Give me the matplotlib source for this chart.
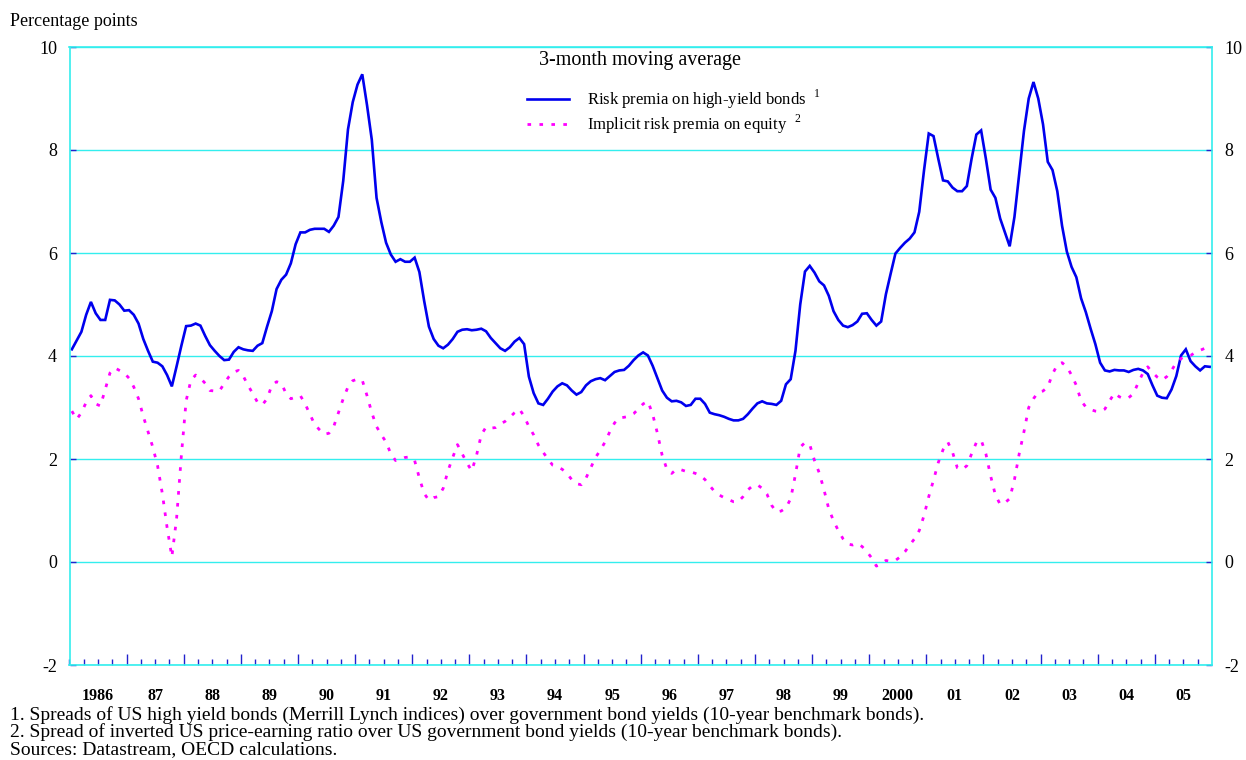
import numpy as np
import matplotlib
matplotlib.use('Agg')
import matplotlib.pyplot as plt
import matplotlib.transforms as mtransforms

plt.rcParams['font.family'] = ['Liberation Serif', 'DejaVu Serif']
plt.rcParams['mathtext.fontset'] = 'custom'
plt.rcParams['mathtext.rm'] = 'Liberation Serif'
plt.rcParams['axes.unicode_minus'] = False

# monthly data, Jan 1986 - Dec 2005 (3-month moving average)
high_yield = [
    4.13, 4.30, 4.47, 4.80, 5.05, 4.83, 4.70, 4.70, 5.09, 5.08, 5.00, 4.88,  # 1986
    4.89, 4.80, 4.63, 4.33, 4.10, 3.89, 3.87, 3.80, 3.63, 3.41, 3.80, 4.20,  # 1987
    4.58, 4.59, 4.63, 4.59, 4.39, 4.21, 4.10, 4.00, 3.92, 3.93, 4.08, 4.17,  # 1988
    4.13, 4.11, 4.10, 4.20, 4.25, 4.57, 4.87, 5.30, 5.48, 5.58, 5.80, 6.17,  # 1989
    6.40, 6.40, 6.45, 6.47, 6.47, 6.47, 6.41, 6.53, 6.70, 7.40, 8.40, 8.93,  # 1990
    9.27, 9.47, 8.87, 8.20, 7.07, 6.60, 6.20, 5.97, 5.83, 5.88, 5.83, 5.83,  # 1991
    5.91, 5.63, 5.07, 4.57, 4.33, 4.20, 4.15, 4.22, 4.33, 4.47, 4.51, 4.52,  # 1992
    4.50, 4.51, 4.53, 4.48, 4.35, 4.25, 4.15, 4.10, 4.17, 4.28, 4.35, 4.23,  # 1993
    3.60, 3.28, 3.08, 3.05, 3.17, 3.31, 3.41, 3.47, 3.43, 3.33, 3.25, 3.30,  # 1994
    3.43, 3.51, 3.55, 3.57, 3.53, 3.61, 3.69, 3.72, 3.73, 3.81, 3.92, 4.01,  # 1995
    4.07, 4.01, 3.81, 3.57, 3.33, 3.19, 3.12, 3.13, 3.10, 3.03, 3.05, 3.17,  # 1996
    3.17, 3.07, 2.90, 2.87, 2.85, 2.82, 2.78, 2.75, 2.75, 2.78, 2.87, 2.98,  # 1997
    3.08, 3.12, 3.08, 3.07, 3.05, 3.13, 3.45, 3.55, 4.10, 5.00, 5.64, 5.75,  # 1998
    5.62, 5.45, 5.37, 5.17, 4.87, 4.70, 4.59, 4.56, 4.60, 4.67, 4.82, 4.83,  # 1999
    4.70, 4.59, 4.67, 5.20, 5.60, 5.99, 6.10, 6.20, 6.28, 6.40, 6.80, 7.60,  # 2000
    8.32, 8.27, 7.83, 7.41, 7.39, 7.27, 7.20, 7.20, 7.30, 7.83, 8.30, 8.38,  # 2001
    7.83, 7.23, 7.07, 6.67, 6.40, 6.13, 6.70, 7.53, 8.37, 9.00, 9.32, 9.00,  # 2002
    8.50, 7.77, 7.61, 7.20, 6.53, 6.03, 5.73, 5.53, 5.12, 4.85, 4.53, 4.23,  # 2003
    3.87, 3.72, 3.70, 3.73, 3.72, 3.72, 3.69, 3.73, 3.75, 3.72, 3.65, 3.43,  # 2004
    3.23, 3.19, 3.18, 3.35, 3.61, 4.01, 4.13, 3.90, 3.80, 3.72, 3.80, 3.79,  # 2005
]

equity = [
    2.93, 2.77, 2.90, 3.10, 3.23, 3.07, 3.03, 3.35, 3.67, 3.77, 3.72, 3.67,  # 1986
    3.57, 3.40, 3.17, 2.83, 2.53, 2.23, 1.87, 1.33, 0.67, 0.10, 0.85, 2.07,  # 1987
    3.13, 3.53, 3.63, 3.57, 3.47, 3.33, 3.32, 3.32, 3.47, 3.60, 3.69, 3.72,  # 1988
    3.61, 3.43, 3.27, 3.10, 3.05, 3.17, 3.43, 3.50, 3.47, 3.27, 3.17, 3.20,  # 1989
    3.23, 3.07, 2.87, 2.67, 2.57, 2.48, 2.50, 2.63, 2.90, 3.17, 3.40, 3.52,  # 1990
    3.55, 3.53, 3.23, 2.90, 2.63, 2.47, 2.33, 2.10, 1.97, 1.99, 2.03, 2.04,  # 1991
    1.97, 1.63, 1.33, 1.20, 1.25, 1.27, 1.43, 1.77, 2.03, 2.28, 2.10, 1.92,  # 1992
    1.77, 2.07, 2.47, 2.62, 2.60, 2.61, 2.68, 2.73, 2.81, 2.90, 2.97, 2.83,  # 1993
    2.63, 2.47, 2.27, 2.13, 2.00, 1.88, 1.85, 1.80, 1.72, 1.60, 1.52, 1.50,  # 1994
    1.63, 1.83, 2.03, 2.17, 2.33, 2.53, 2.70, 2.80, 2.81, 2.83, 2.88, 2.97,  # 1995
    3.07, 3.12, 2.87, 2.50, 2.07, 1.80, 1.72, 1.80, 1.79, 1.76, 1.75, 1.72,  # 1996
    1.68, 1.60, 1.48, 1.37, 1.30, 1.25, 1.21, 1.17, 1.17, 1.27, 1.40, 1.48,  # 1997
    1.50, 1.43, 1.32, 1.10, 0.97, 0.99, 1.05, 1.23, 1.70, 2.23, 2.32, 2.28,  # 1998
    1.97, 1.73, 1.40, 1.03, 0.80, 0.61, 0.45, 0.35, 0.33, 0.36, 0.30, 0.20,  # 1999
    0.08, -0.08, -0.03, 0.03, 0.01, 0.03, 0.10, 0.20, 0.33, 0.45, 0.61, 0.90,  # 2000
    1.27, 1.59, 1.93, 2.18, 2.33, 2.13, 1.83, 1.79, 1.87, 2.10, 2.32, 2.37,  # 2001
    2.10, 1.67, 1.30, 1.12, 1.15, 1.23, 1.60, 2.10, 2.53, 3.00, 3.17, 3.30,  # 2002
    3.32, 3.40, 3.65, 3.83, 3.87, 3.79, 3.63, 3.43, 3.13, 3.01, 2.96, 2.93,  # 2003
    2.92, 2.97, 3.13, 3.28, 3.21, 3.17, 3.19, 3.27, 3.48, 3.67, 3.79, 3.68,  # 2004
    3.59, 3.53, 3.60, 3.72, 3.87, 3.95, 4.00, 4.01, 4.07, 4.11, 4.15, 4.18,  # 2005
]

years = list(range(1986, 2006))
year_labels = ['1986', '87', '88', '89', '90', '91', '92', '93', '94', '95',
               '96', '97', '98', '99', '2000', '01', '02', '03', '04', '05']

footnotes = [
    '1. Spreads of US high yield bonds (Merrill Lynch indices) over government bond yields (10-year benchmark bonds).',
    '2. Spread of inverted US price-earning ratio over US government bond yields (10-year benchmark bonds).',
    'Sources: Datastream, OECD calculations.',
]

# month mid-points in decimal years
x = 1986 + (np.arange(len(high_yield)) + 0.5) / 12.0

W, H = 1246, 760
fig = plt.figure(figsize=(W / 100, H / 100), dpi=100)
ax = fig.add_axes([69.5 / W, 1 - 665 / H, (1212 - 69.5) / W, (665 - 47) / H])

grid_c = '#33EEEE'
tick_c = '#2222CC'

ax.plot(x, high_yield, color='#0000EE', lw=1.9, solid_joinstyle='miter',
        label='Risk premia on high-yield bonds  $^{1}$')
ax.plot(x, equity, color='#FF00FF', lw=2.0, linestyle=(0, (1.3, 3.0)),
        dash_capstyle='butt', label='Implicit risk premia on equity  $^{2}$')

ax.set_xlim(1986, 2006)
ax.set_ylim(-2, 10)
ax.set_yticks(range(-2, 11, 2))
ax.grid(axis='y', color=grid_c, lw=1.0)
ax.set_axisbelow(True)
for sp in ax.spines.values():
    sp.set_color(grid_c)
    sp.set_linewidth(1.2)

ax.set_xticks(years[1:])
ax.set_xticks(np.arange(1986, 2006, 0.25), minor=True)
ax.tick_params(axis='x', which='major', direction='in', length=8, width=1,
               color=tick_c, labelbottom=False)
ax.tick_params(axis='x', which='minor', direction='in', length=4, width=1,
               color=tick_c)
ax.tick_params(axis='y', direction='in', length=4, width=1, color=tick_c,
               left=True, right=True, labelleft=True, labelright=True,
               labelsize=13, pad=9)

trans = mtransforms.blended_transform_factory(ax.transData, ax.transAxes)
for yr, lab in zip(years, year_labels):
    ax.text(yr + 0.5, -0.05, lab, transform=trans, ha='center', va='center',
            fontsize=11.5, fontweight='bold')

ax.text(640 / W, 1 - 60 / H, '3-month moving average', transform=fig.transFigure,
        ha='center', va='center', fontsize=14.5)
ax.legend(loc='upper left', bbox_to_anchor=(527 / W, 1 - 88 / H),
          bbox_transform=fig.transFigure, frameon=False, fontsize=12,
          handlelength=2.5, handletextpad=1.1, labelspacing=0.1,
          borderpad=0, borderaxespad=0)

fig.text(10 / W, 1 - 22 / H, 'Percentage points', ha='left', va='center',
         fontsize=13)
for k, line in enumerate(footnotes):
    fig.text(10 / W, 1 - (715 + 17.5 * k) / H, line, ha='left', va='center',
             fontsize=14)

fig.savefig('out.png', dpi=100)
